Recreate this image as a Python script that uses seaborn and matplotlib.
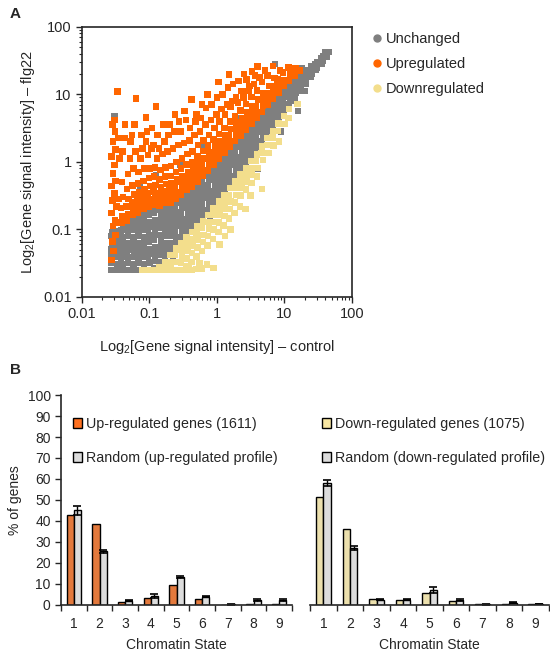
import matplotlib
matplotlib.use("Agg")
import matplotlib.pyplot as plt
import seaborn as sns
import pandas as pd
from matplotlib.lines import Line2D
from matplotlib.patches import Patch

# ---- panel A: scatter, points as (log10 control, log10 flg22) ----
unchanged = [
    (-1.57, -1.60), (-1.57, -1.50), (-1.56, -1.40), (-1.57, -1.30), (-1.55, -1.20), (-1.56, -1.10), (-1.55, -1.04),
    (-1.49, -1.60), (-1.48, -1.51), (-1.50, -1.41), (-1.47, -1.31), (-1.49, -1.21), (-1.48, -1.11), (-1.50, -1.03),
    (-1.41, -1.60), (-1.40, -1.52), (-1.42, -1.42), (-1.39, -1.32), (-1.41, -1.22), (-1.40, -1.12), (-1.42, -1.02), (-1.39, -0.96),
    (-1.33, -1.60), (-1.32, -1.50), (-1.34, -1.40), (-1.31, -1.30), (-1.33, -1.20), (-1.32, -1.10), (-1.34, -1.00), (-1.31, -0.93),
    (-1.25, -1.60), (-1.24, -1.51), (-1.26, -1.41), (-1.23, -1.31), (-1.25, -1.21), (-1.24, -1.11), (-1.26, -1.01), (-1.23, -0.91), (-1.25, -0.85),
    (-1.17, -1.60), (-1.16, -1.50), (-1.18, -1.40), (-1.15, -1.30), (-1.17, -1.20), (-1.16, -1.10), (-1.18, -1.00), (-1.15, -0.90), (-1.17, -0.82),
    (-1.09, -1.60), (-1.08, -1.51), (-1.10, -1.41), (-1.07, -1.31), (-1.09, -1.21), (-1.08, -1.11), (-1.10, -1.01), (-1.07, -0.91), (-1.09, -0.81), (-1.08, -0.76),
    (-1.01, -1.60), (-1.00, -1.49), (-1.02, -1.39), (-0.99, -1.29), (-1.01, -1.19), (-1.00, -1.09), (-1.02, -0.99), (-0.99, -0.89), (-1.01, -0.79), (-1.00, -0.72),
    (-0.93, -1.58), (-0.92, -1.46), (-0.94, -1.36), (-0.91, -1.26), (-0.93, -1.16), (-0.92, -1.06), (-0.94, -0.96), (-0.91, -0.86), (-0.93, -0.76), (-0.92, -0.69),
    (-0.85, -1.48), (-0.84, -1.38), (-0.86, -1.28), (-0.83, -1.18), (-0.85, -1.08), (-0.84, -0.98), (-0.86, -0.88), (-0.83, -0.79), (-0.85, -0.71),
    (-0.77, -1.40), (-0.76, -1.30), (-0.78, -1.20), (-0.75, -1.10), (-0.77, -1.00), (-0.76, -0.91), (-0.78, -0.82), (-0.75, -0.73), (-0.77, -0.67),
    (-0.69, -1.30), (-0.68, -1.20), (-0.70, -1.10), (-0.67, -1.01), (-0.69, -0.92), (-0.68, -0.83), (-0.70, -0.74), (-0.67, -0.66),
    (-0.61, -1.20), (-0.60, -1.11), (-0.62, -1.02), (-0.59, -0.93), (-0.61, -0.84), (-0.60, -0.75), (-0.62, -0.66), (-0.59, -0.60),
    (-0.53, -1.12), (-0.52, -1.03), (-0.54, -0.94), (-0.51, -0.85), (-0.53, -0.76), (-0.52, -0.67), (-0.54, -0.59), (-0.51, -0.54),
    (-0.45, -1.04), (-0.44, -0.95), (-0.46, -0.86), (-0.43, -0.77), (-0.45, -0.68), (-0.44, -0.59), (-0.46, -0.51), (-0.43, -0.48),
    (-0.37, -0.96), (-0.36, -0.87), (-0.38, -0.78), (-0.35, -0.69), (-0.37, -0.60), (-0.36, -0.51), (-0.38, -0.43),
    (-0.29, -0.88), (-0.28, -0.79), (-0.30, -0.70), (-0.27, -0.61), (-0.29, -0.52), (-0.28, -0.43), (-0.30, -0.35),
    (-0.21, -0.80), (-0.20, -0.71), (-0.22, -0.62), (-0.19, -0.53), (-0.21, -0.44), (-0.20, -0.35), (-0.22, -0.27),
    (-0.13, -0.71), (-0.12, -0.62), (-0.14, -0.53), (-0.11, -0.44), (-0.13, -0.35), (-0.12, -0.26), (-0.14, -0.19),
    (-0.05, -0.61), (-0.04, -0.52), (-0.06, -0.43), (-0.03, -0.34), (-0.05, -0.25), (-0.04, -0.16), (-0.06, -0.10),
    (0.03, -0.51), (0.04, -0.42), (0.02, -0.33), (0.05, -0.24), (0.03, -0.15), (0.04, -0.07), (0.02, -0.02),
    (0.11, -0.41), (0.12, -0.32), (0.10, -0.23), (0.13, -0.14), (0.11, -0.05), (0.12, 0.03), (0.10, 0.07),
    (0.19, -0.31), (0.20, -0.22), (0.18, -0.13), (0.21, -0.04), (0.19, 0.05), (0.20, 0.13), (0.18, 0.16),
    (0.27, -0.21), (0.28, -0.12), (0.26, -0.03), (0.29, 0.06), (0.27, 0.15), (0.28, 0.22), (0.26, 0.25),
    (0.35, -0.11), (0.36, -0.02), (0.34, 0.07), (0.37, 0.16), (0.35, 0.25), (0.36, 0.32),
    (0.43, -0.01), (0.44, 0.08), (0.42, 0.17), (0.45, 0.26), (0.43, 0.34), (0.44, 0.41),
    (0.51, 0.09), (0.52, 0.18), (0.50, 0.27), (0.53, 0.36), (0.51, 0.44), (0.52, 0.50),
    (0.59, 0.19), (0.60, 0.28), (0.58, 0.37), (0.61, 0.45), (0.59, 0.53), (0.60, 0.59),
    (0.67, 0.31), (0.68, 0.39), (0.66, 0.47), (0.69, 0.55), (0.67, 0.62), (0.68, 0.68),
    (0.75, 0.43), (0.76, 0.51), (0.74, 0.58), (0.77, 0.65), (0.75, 0.72), (0.76, 0.78),
    (0.83, 0.54), (0.84, 0.61), (0.82, 0.68), (0.85, 0.75), (0.83, 0.82), (0.84, 0.88),
    (0.91, 0.65), (0.92, 0.72), (0.90, 0.79), (0.93, 0.86), (0.91, 0.92), (0.92, 0.97),
    (0.99, 0.76), (1.00, 0.83), (0.98, 0.90), (1.01, 0.96), (0.99, 1.02), (1.00, 1.07),
    (1.07, 0.86), (1.08, 0.93), (1.06, 0.99), (1.09, 1.05), (1.07, 1.11), (1.08, 1.15),
    (1.15, 0.96), (1.16, 1.02), (1.14, 1.08), (1.17, 1.14), (1.15, 1.19), (1.16, 1.23),
    (1.23, 1.06), (1.24, 1.12), (1.22, 1.17), (1.25, 1.22), (1.23, 1.27), (1.24, 1.30),
    (1.31, 1.16), (1.32, 1.21), (1.30, 1.26), (1.33, 1.31), (1.31, 1.35),
    (1.39, 1.26), (1.40, 1.31), (1.38, 1.35), (1.41, 1.39), (1.39, 1.42),
    (1.47, 1.36), (1.48, 1.40), (1.46, 1.44), (1.49, 1.48),
    (1.55, 1.46), (1.56, 1.50), (1.54, 1.54), (1.57, 1.56),
    (1.62, 1.55), (1.63, 1.59), (1.61, 1.62), (1.66, 1.63),
    (-1.52, 0.68), (-1.14, -0.35), (-0.90, -0.20), (-0.55, -0.05), (-0.20, 0.25), (0.30, 0.65),
    (0.86, 1.45), (1.10, 1.32), (1.25, 1.38), (1.30, 1.05), (1.15, 0.90), (0.75, 0.25),
    (-0.10, -0.85), (-0.35, -1.15), (0.35, -0.35), (-0.65, -1.45), (0.60, -0.10), (1.20, 0.75), (0.95, 0.45),
]

upregulated = [
    (-1.56, -1.45), (-1.53, -1.32), (-1.55, -1.18), (-1.50, -1.08), (-1.54, -0.95), (-1.51, -0.86),
    (-1.56, -0.76), (-1.49, -0.66), (-1.55, -0.57), (-1.52, -0.47), (-1.56, -0.36), (-1.50, -0.28),
    (-1.54, -0.17), (-1.52, -0.05), (-1.56, 0.08), (-1.50, 0.18), (-1.54, 0.30), (-1.51, 0.45),
    (-1.55, 0.55), (-1.52, 0.62), (-1.47, 1.04), (-1.46, -0.90), (-1.45, -0.55), (-1.44, 0.05), (-1.46, 0.35),
    (-1.41, -0.90), (-1.40, -0.80), (-1.42, -0.68), (-1.39, -0.52), (-1.41, -0.30), (-1.40, 0.15),
    (-1.33, -0.87), (-1.32, -0.77), (-1.34, -0.66), (-1.31, -0.55), (-1.33, -0.40), (-1.32, -0.18),
    (-1.25, -0.79), (-1.24, -0.70), (-1.26, -0.60), (-1.23, -0.48), (-1.25, -0.35), (-1.24, -0.10), (-1.26, 0.40),
    (-1.17, -0.76), (-1.16, -0.66), (-1.18, -0.56), (-1.15, -0.45), (-1.17, -0.32), (-1.16, -0.15), (-1.20, 0.94),
    (-1.09, -0.70), (-1.08, -0.60), (-1.10, -0.50), (-1.07, -0.40), (-1.09, -0.28), (-1.08, -0.10), (-1.10, 0.20),
    (-1.01, -0.66), (-1.00, -0.56), (-1.02, -0.46), (-0.99, -0.36), (-1.01, -0.24), (-1.00, -0.10), (-1.02, 0.10), (-1.05, 0.66),
    (-0.93, -0.63), (-0.92, -0.54), (-0.94, -0.44), (-0.91, -0.34), (-0.93, -0.22), (-0.92, -0.08), (-0.94, 0.25),
    (-0.85, -0.65), (-0.84, -0.56), (-0.86, -0.47), (-0.83, -0.37), (-0.85, -0.26), (-0.84, -0.12), (-0.86, 0.20), (-0.90, 0.82),
    (-0.77, -0.61), (-0.76, -0.52), (-0.78, -0.43), (-0.75, -0.33), (-0.77, -0.22), (-0.76, -0.08), (-0.78, 0.30),
    (-0.69, -0.60), (-0.68, -0.51), (-0.70, -0.42), (-0.67, -0.32), (-0.69, -0.21), (-0.68, -0.06), (-0.70, 0.55),
    (-0.61, -0.54), (-0.60, -0.45), (-0.62, -0.36), (-0.59, -0.26), (-0.61, -0.15), (-0.60, 0.00), (-0.62, 0.70),
    (-0.53, -0.48), (-0.52, -0.39), (-0.54, -0.30), (-0.51, -0.21), (-0.53, -0.10), (-0.52, 0.05), (-0.54, 0.45),
    (-0.45, -0.42), (-0.44, -0.33), (-0.46, -0.24), (-0.43, -0.15), (-0.45, -0.04), (-0.44, 0.12), (-0.46, 0.62),
    (-0.37, -0.37), (-0.36, -0.28), (-0.38, -0.19), (-0.35, -0.10), (-0.37, 0.00), (-0.36, 0.15), (-0.38, 0.92),
    (-0.29, -0.29), (-0.28, -0.20), (-0.30, -0.11), (-0.27, -0.02), (-0.29, 0.08), (-0.28, 0.25), (-0.30, 0.70),
    (-0.21, -0.21), (-0.20, -0.12), (-0.22, -0.03), (-0.19, 0.06), (-0.21, 0.16), (-0.20, 0.32), (-0.22, 0.85),
    (-0.13, -0.13), (-0.12, -0.04), (-0.14, 0.05), (-0.11, 0.14), (-0.13, 0.24), (-0.12, 0.40), (-0.14, 1.00),
    (-0.05, -0.04), (-0.04, 0.05), (-0.06, 0.14), (-0.03, 0.23), (-0.05, 0.33), (-0.04, 0.50),
    (0.03, 0.04), (0.04, 0.13), (0.02, 0.22), (0.05, 0.31), (0.03, 0.41), (0.04, 0.60), (0.02, 1.18),
    (0.11, 0.13), (0.12, 0.22), (0.10, 0.31), (0.13, 0.40), (0.11, 0.50), (0.12, 0.70),
    (0.19, 0.22), (0.20, 0.31), (0.18, 0.40), (0.21, 0.49), (0.19, 0.60), (0.20, 0.82), (0.18, 1.29),
    (0.27, 0.31), (0.28, 0.40), (0.26, 0.49), (0.29, 0.58), (0.27, 0.68), (0.28, 0.95),
    (0.35, 0.38), (0.36, 0.47), (0.34, 0.56), (0.37, 0.65), (0.35, 0.76), (0.36, 1.05),
    (0.43, 0.47), (0.44, 0.56), (0.42, 0.65), (0.45, 0.74), (0.43, 0.86), (0.44, 1.22),
    (0.51, 0.56), (0.52, 0.65), (0.50, 0.74), (0.53, 0.83), (0.51, 0.96), (0.52, 1.34),
    (0.59, 0.65), (0.60, 0.74), (0.58, 0.83), (0.61, 0.92), (0.59, 1.06), (0.60, 1.41),
    (0.67, 0.74), (0.68, 0.83), (0.66, 0.92), (0.69, 1.02), (0.67, 1.18),
    (0.75, 0.84), (0.76, 0.93), (0.74, 1.02), (0.77, 1.12), (0.75, 1.28),
    (0.83, 0.94), (0.84, 1.03), (0.82, 1.12), (0.85, 1.24), (0.83, 1.42),
    (0.91, 1.03), (0.92, 1.12), (0.90, 1.22), (0.93, 1.35),
    (0.99, 1.12), (1.00, 1.21), (0.98, 1.32),
    (1.07, 1.20), (1.08, 1.29), (1.06, 1.40),
    (1.15, 1.28), (1.16, 1.38), (1.23, 1.35),
    # the looser part of the wedge, higher up
    (-1.37, 0.35), (-1.36, 0.55), (-1.29, 0.05), (-1.28, 0.30), (-1.21, 0.15), (-1.22, 0.55),
    (-1.13, 0.05), (-1.12, 0.40), (-1.05, 0.30), (-1.04, 0.45), (-0.97, 0.20), (-0.96, 0.50),
    (-0.89, 0.05), (-0.88, 0.40), (-0.81, 0.12), (-0.80, 0.55), (-0.73, 0.15), (-0.72, 0.40),
    (-0.65, 0.20), (-0.64, 0.45), (-0.57, 0.25), (-0.56, 0.60), (-0.49, 0.28), (-0.48, 0.75),
    (-0.41, 0.32), (-0.40, 0.50), (-0.33, 0.40), (-0.32, 0.60), (-0.25, 0.45), (-0.24, 0.65),
    (-0.17, 0.55), (-0.16, 0.80), (-0.09, 0.62), (-0.08, 0.85), (-0.01, 0.70), (0.00, 0.95),
    (0.07, 0.78), (0.08, 1.00), (0.15, 0.85), (0.16, 1.10), (0.23, 0.90), (0.24, 1.15),
    (0.31, 0.88), (0.32, 1.20), (0.39, 0.95), (0.40, 1.30), (0.47, 1.05), (0.48, 1.12),
    (0.55, 1.15), (0.56, 1.28), (0.63, 1.25), (0.71, 1.35),
]

downregulated = [
    (-1.10, -1.60), (-1.02, -1.60), (-0.94, -1.60), (-0.86, -1.60), (-0.78, -1.60), (-0.70, -1.60),
    (-0.62, -1.60), (-0.54, -1.60), (-0.46, -1.60), (-0.38, -1.60), (-0.30, -1.59), (-0.22, -1.58),
    (-0.15, -1.52), (-0.05, -1.57), (-0.42, -1.55), (-0.26, -1.50),
    (-0.85, -1.56),
    (-0.77, -1.48), (-0.78, -1.57),
    (-0.69, -1.38), (-0.70, -1.48), (-0.68, -1.57),
    (-0.61, -1.28), (-0.62, -1.38), (-0.60, -1.48),
    (-0.53, -1.20), (-0.54, -1.30), (-0.52, -1.40), (-0.53, -1.50),
    (-0.45, -1.12), (-0.46, -1.22), (-0.44, -1.32), (-0.45, -1.43), (-0.46, -1.55),
    (-0.37, -1.04), (-0.38, -1.14), (-0.36, -1.24), (-0.37, -1.35), (-0.38, -1.48),
    (-0.29, -0.96), (-0.30, -1.06), (-0.28, -1.16), (-0.29, -1.27), (-0.30, -1.40),
    (-0.21, -0.88), (-0.22, -0.98), (-0.20, -1.08), (-0.21, -1.19), (-0.22, -1.32),
    (-0.13, -0.79), (-0.14, -0.89), (-0.12, -0.99), (-0.13, -1.10), (-0.14, -1.24),
    (-0.05, -0.69), (-0.06, -0.79), (-0.04, -0.89), (-0.05, -1.00), (-0.06, -1.14),
    (0.03, -0.59), (0.02, -0.69), (0.04, -0.79), (0.03, -0.90), (0.02, -1.04), (0.04, -1.22),
    (0.11, -0.49), (0.10, -0.59), (0.12, -0.69), (0.11, -0.80), (0.10, -0.94), (0.12, -1.10),
    (0.19, -0.39), (0.18, -0.49), (0.20, -0.59), (0.19, -0.70), (0.18, -0.84), (0.20, -1.00),
    (0.27, -0.29), (0.26, -0.39), (0.28, -0.49), (0.27, -0.60), (0.26, -0.76),
    (0.35, -0.19), (0.34, -0.29), (0.36, -0.39), (0.35, -0.50), (0.34, -0.66),
    (0.43, -0.09), (0.42, -0.19), (0.44, -0.29), (0.43, -0.41), (0.42, -0.70),
    (0.51, 0.01), (0.50, -0.09), (0.52, -0.19), (0.51, -0.31), (0.50, -0.50),
    (0.59, 0.11), (0.58, 0.01), (0.60, -0.09), (0.59, -0.22),
    (0.67, 0.23), (0.66, 0.13), (0.68, 0.03), (0.67, -0.40),
    (0.75, 0.35), (0.74, 0.25), (0.76, 0.13),
    (0.83, 0.46), (0.82, 0.36), (0.84, 0.24),
    (0.91, 0.57), (0.90, 0.46), (0.92, 0.30),
    (0.99, 0.68), (1.00, 0.56), (1.07, 0.78), (1.06, 0.65), (1.19, 0.86),
]

# ---- panel B: % of genes per chromatin state ----
states = ["1", "2", "3", "4", "5", "6", "7", "8", "9"]
up_genes = [43.0, 38.5, 1.5, 3.5, 9.5, 3.0, 0.2, 0.3, 0.3]
up_random = [45.0, 25.5, 2.0, 4.3, 13.5, 4.0, 0.3, 2.5, 2.5]
up_random_err = [2.0, 0.7, 0.3, 0.8, 0.5, 0.4, 0.1, 0.4, 0.4]
down_genes = [51.3, 36.0, 2.7, 2.5, 5.9, 1.9, 0.3, 0.5, 0.3]
down_random = [58.0, 27.0, 2.5, 2.5, 7.1, 2.3, 0.3, 1.0, 0.5]
down_random_err = [1.3, 0.9, 0.2, 0.2, 1.3, 0.4, 0.1, 0.3, 0.1]

GRAY = "#7f7f7f"
ORANGE = "#ff6600"
YELLOW = "#f3de8c"
BAR_ORANGE = "#ff7120"
BAR_YELLOW = "#f7e6a2"
BAR_GRAY = "#dcdcdc"

sns.set_style("ticks")
plt.rcParams["font.family"] = ["Liberation Sans", "DejaVu Sans"]
plt.rcParams["mathtext.fontset"] = "custom"
plt.rcParams["mathtext.rm"] = "Liberation Sans"
plt.rcParams["axes.linewidth"] = 1.2

rows = []
for name, pts in [("Unchanged", unchanged), ("Downregulated", downregulated), ("Upregulated", upregulated)]:
    for lx, ly in pts:
        rows.append({"control": 10 ** lx, "flg22": 10 ** ly, "group": name})
df = pd.DataFrame(rows)

fig = plt.figure(figsize=(5.5, 6.54), dpi=100)

# panel A
ax = fig.add_axes([0.149, 0.546, 0.491, 0.413])
sns.scatterplot(data=df, x="control", y="flg22", hue="group",
                palette={"Unchanged": GRAY, "Upregulated": ORANGE, "Downregulated": YELLOW},
                marker="s", s=22, linewidth=0, legend=False, ax=ax)
ax.set_xscale("log")
ax.set_yscale("log")
ax.set_xlim(0.01, 100)
ax.set_ylim(0.01, 100)
ticks = [0.01, 0.1, 1, 10, 100]
ax.set_xticks(ticks)
ax.set_xticklabels(["0.01", "0.1", "1", "10", "100"])
ax.set_yticks(ticks)
ax.set_yticklabels(["0.01", "0.1", "1", "10", "100"])
ax.tick_params(which="major", length=4, width=1, labelsize=10.5, direction="out")
ax.tick_params(which="minor", length=2.5, width=0.8, direction="out")
ax.set_xlabel("Log$_\\mathrm{2}$[Gene signal intensity] \u2013 control", fontsize=10.5, labelpad=12)
ax.set_ylabel("Log$_\\mathrm{2}$[Gene signal intensity] \u2013 flg22", fontsize=10.5, labelpad=4)
handles = [Line2D([], [], marker="o", ls="", color=c, markersize=5)
           for c in [GRAY, ORANGE, YELLOW]]
ax.legend(handles, ["Unchanged", "Upregulated", "Downregulated"], loc="upper left",
          bbox_to_anchor=(1.048, 1.006), frameon=False, fontsize=10.5, handlelength=0.6,
          handletextpad=0.35, labelspacing=0.75, borderpad=0)

fig.text(0.018, 0.978, "A", fontsize=11, fontweight="bold", va="center")
fig.text(0.018, 0.434, "B", fontsize=11, fontweight="bold", va="center")


def bar_panel(ax, genes, random, err, color, labels):
    data = pd.DataFrame({
        "state": states * 2,
        "pct": genes + random,
        "set": [labels[0]] * 9 + [labels[1]] * 9,
    })
    sns.barplot(data=data, x="state", y="pct", hue="set", palette=[color, BAR_GRAY],
                width=0.56, edgecolor="black", linewidth=1, errorbar=None,
                legend=False, ax=ax)
    centers = [p.get_x() + p.get_width() / 2 for p in ax.containers[1]]
    ax.errorbar(centers, random, yerr=err, fmt="none", ecolor="black",
                elinewidth=1, capsize=3, capthick=1.2)
    ax.set_xlim(-0.5, 8.5)
    ax.set_ylim(0, 100)
    ax.set_xticks(range(9))
    ax.set_xticks([i - 0.5 for i in range(10)], minor=True)
    ax.tick_params(axis="x", which="major", length=0, labelsize=10, pad=9)
    ax.tick_params(axis="x", which="minor", length=4, width=1, direction="out")
    ax.set_xlabel("Chromatin State", fontsize=10, labelpad=5)
    ax.legend([Patch(facecolor=color, edgecolor="black"), Patch(facecolor=BAR_GRAY, edgecolor="black")],
              labels, loc="upper left", bbox_to_anchor=(0.02, 0.93), frameon=False, fontsize=10.3,
              handlelength=0.65, handleheight=0.65, handletextpad=0.25, labelspacing=1.4,
              borderpad=0)
    sns.despine(ax=ax)


axl = fig.add_axes([0.111, 0.075, 0.420, 0.321])
bar_panel(axl, up_genes, up_random, up_random_err, BAR_ORANGE,
          ["Up-regulated genes (1611)", "Random (up-regulated profile)"])
axl.set_yticks(range(0, 101, 10))
axl.tick_params(axis="y", length=4, width=1, labelsize=10, direction="out")
axl.set_ylabel("% of genes", fontsize=10)

axr = fig.add_axes([0.564, 0.075, 0.434, 0.321])
bar_panel(axr, down_genes, down_random, down_random_err, BAR_YELLOW,
          ["Down-regulated genes (1075)", "Random (down-regulated profile)"])
axr.set_ylabel("")
axr.set_yticks([])
axr.spines["left"].set_visible(False)

fig.savefig("out.png", dpi=100)
